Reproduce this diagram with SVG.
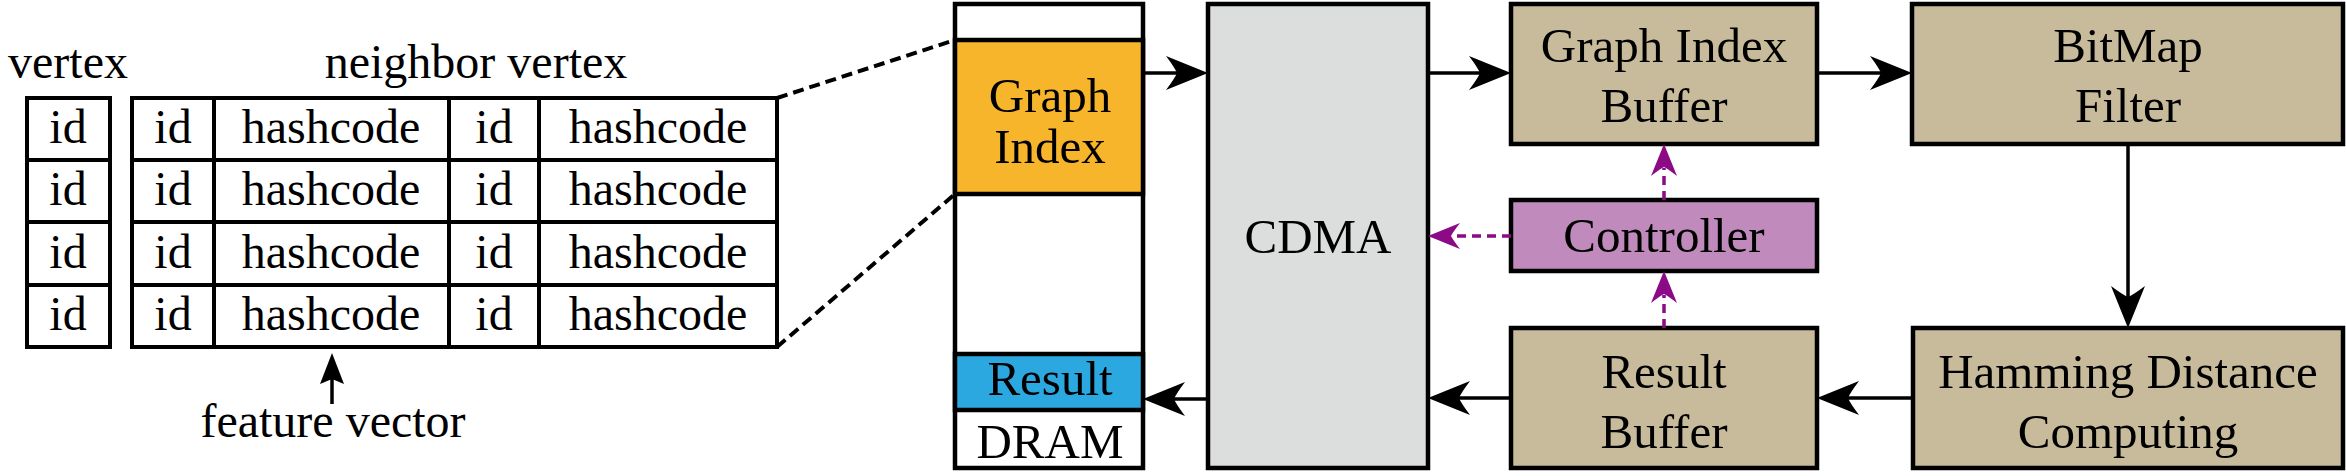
<svg xmlns="http://www.w3.org/2000/svg" width="2346" height="476" viewBox="0 0 2346 476" font-family="'Liberation Serif', Tinos, 'Times New Roman', 'DejaVu Serif', serif">
<style>
text{font-family:'Liberation Serif',Tinos,'Times New Roman','DejaVu Serif',serif;font-size:49px;fill:#000;text-anchor:middle}
.t{font-size:48px}
.cell{fill:#fff;stroke:#000;stroke-width:4}
.box{stroke:#000;stroke-width:4.5}
.tan{fill:#C8BB9B}
.ln{stroke:#000;stroke-width:3.5;fill:none}
.pl{stroke:#8C0A86;stroke-width:3.5;fill:none;stroke-dasharray:9 6}
.dash{stroke:#000;stroke-width:4;fill:none;stroke-dasharray:11 6}
.hk{fill:#000}
.hp{fill:#8C0A86}
</style>

<g id="vertex-table">
<text class="t" x="68" y="78">vertex</text>
<rect class="cell" x="27" y="98" width="83" height="62"/>
<rect class="cell" x="27" y="160" width="83" height="62"/>
<rect class="cell" x="27" y="222" width="83" height="63"/>
<rect class="cell" x="27" y="285" width="83" height="62"/>
<text class="t" x="68" y="143">id</text>
<text class="t" x="68" y="205">id</text>
<text class="t" x="68" y="268">id</text>
<text class="t" x="68" y="330">id</text>
</g>

<g id="neighbor-table">
<text class="t" x="476" y="78">neighbor vertex</text>
<rect class="cell" x="132" y="98" width="645" height="249"/>
<g stroke="#000" stroke-width="4">
<line x1="132" y1="160" x2="777" y2="160"/>
<line x1="132" y1="222" x2="777" y2="222"/>
<line x1="132" y1="285" x2="777" y2="285"/>
<line x1="214" y1="98" x2="214" y2="347"/>
<line x1="449" y1="98" x2="449" y2="347"/>
<line x1="539" y1="98" x2="539" y2="347"/>
</g>
<text class="t" x="173" y="143">id</text><text class="t" x="331" y="143">hashcode</text><text class="t" x="494" y="143">id</text><text class="t" x="658" y="143">hashcode</text>
<text class="t" x="173" y="205">id</text><text class="t" x="331" y="205">hashcode</text><text class="t" x="494" y="205">id</text><text class="t" x="658" y="205">hashcode</text>
<text class="t" x="173" y="268">id</text><text class="t" x="331" y="268">hashcode</text><text class="t" x="494" y="268">id</text><text class="t" x="658" y="268">hashcode</text>
<text class="t" x="173" y="330">id</text><text class="t" x="331" y="330">hashcode</text><text class="t" x="494" y="330">id</text><text class="t" x="658" y="330">hashcode</text>
</g>

<g id="feature-vector">
<text class="t" x="333" y="437">feature vector</text>
</g>

<g id="dram">
<rect x="955" y="4" width="188" height="464" fill="#fff" stroke="#000" stroke-width="4.5"/>
<rect x="955" y="40" width="188" height="154" fill="#F7B52B" stroke="#000" stroke-width="4.5"/>
<rect x="955" y="354" width="188" height="56" fill="#2CA8E0" stroke="#000" stroke-width="4.5"/>
<text x="1050" y="112">Graph</text>
<text x="1050" y="163">Index</text>
<text x="1050" y="395">Result</text>
<text x="1050" y="458">DRAM</text>
</g>

<g id="cdma">
<rect class="box" x="1208" y="4" width="220" height="464" fill="#DCDEDD"/>
<text x="1318" y="253">CDMA</text>
</g>

<g id="graph-index-buffer">
<rect class="box tan" x="1511" y="4" width="306" height="140"/>
<text x="1664" y="62">Graph Index</text>
<text x="1664" y="122">Buffer</text>
</g>

<g id="controller">
<rect class="box" x="1511" y="200" width="306" height="71" fill="#C08ABD"/>
<text x="1664" y="252">Controller</text>
</g>

<g id="result-buffer">
<rect class="box tan" x="1511" y="328" width="306" height="140"/>
<text x="1664" y="388">Result</text>
<text x="1664" y="448">Buffer</text>
</g>

<g id="bitmap-filter">
<rect class="box tan" x="1912" y="4" width="431" height="140"/>
<text x="2128" y="62">BitMap</text>
<text x="2128" y="122">Filter</text>
</g>

<g id="hamming">
<rect class="box tan" x="1913" y="328" width="430" height="140"/>
<text x="2128" y="388">Hamming Distance</text>
<text x="2128" y="448">Computing</text>
</g>

<g id="connectors">
<line class="dash" x1="777" y1="98" x2="955" y2="40"/>
<line class="dash" x1="777" y1="347" x2="955" y2="194"/>

<line class="ln" x1="332" y1="404" x2="332" y2="378"/>
<path class="hk" d="M332,353 L320,384 L332,379 L344,384 Z"/>

<line class="ln" x1="1143" y1="73" x2="1180" y2="73"/>
<path class="hk" d="M1208,73 L1166,56 Q1175,68 1177,73 Q1175,78 1166,90 Z"/>

<line class="ln" x1="1428" y1="73" x2="1483" y2="73"/>
<path class="hk" d="M1511,73 L1469,56 Q1478,68 1480,73 Q1478,78 1469,90 Z"/>

<line class="ln" x1="1817" y1="73" x2="1884" y2="73"/>
<path class="hk" d="M1912,73 L1870,56 Q1879,68 1881,73 Q1879,78 1870,90 Z"/>

<line class="ln" x1="2128" y1="144" x2="2128" y2="300"/>
<path class="hk" d="M2128,328 L2111,286 Q2123,295 2128,297 Q2133,295 2145,286 Z"/>

<line class="ln" x1="1913" y1="398" x2="1845" y2="398"/>
<path class="hk" d="M1817,398 L1859,381 Q1850,393 1848,398 Q1850,403 1859,415 Z"/>

<line class="ln" x1="1511" y1="398" x2="1456" y2="398"/>
<path class="hk" d="M1428,398 L1470,381 Q1461,393 1459,398 Q1461,403 1470,415 Z"/>

<line class="ln" x1="1208" y1="399" x2="1171" y2="399"/>
<path class="hk" d="M1143,399 L1185,382 Q1176,394 1174,399 Q1176,404 1185,416 Z"/>

<line class="pl" x1="1511" y1="236" x2="1452" y2="236"/>
<path class="hp" d="M1428,236 L1460,223 Q1453,232 1451,236 Q1453,240 1460,249 Z"/>

<line class="pl" x1="1664" y1="200" x2="1664" y2="168"/>
<path class="hp" d="M1664,144 L1651,176 Q1660,169 1664,167 Q1668,169 1677,176 Z"/>

<line class="pl" x1="1664" y1="328" x2="1664" y2="295"/>
<path class="hp" d="M1664,271 L1651,303 Q1660,296 1664,294 Q1668,296 1677,303 Z"/>
</g>
</svg>
